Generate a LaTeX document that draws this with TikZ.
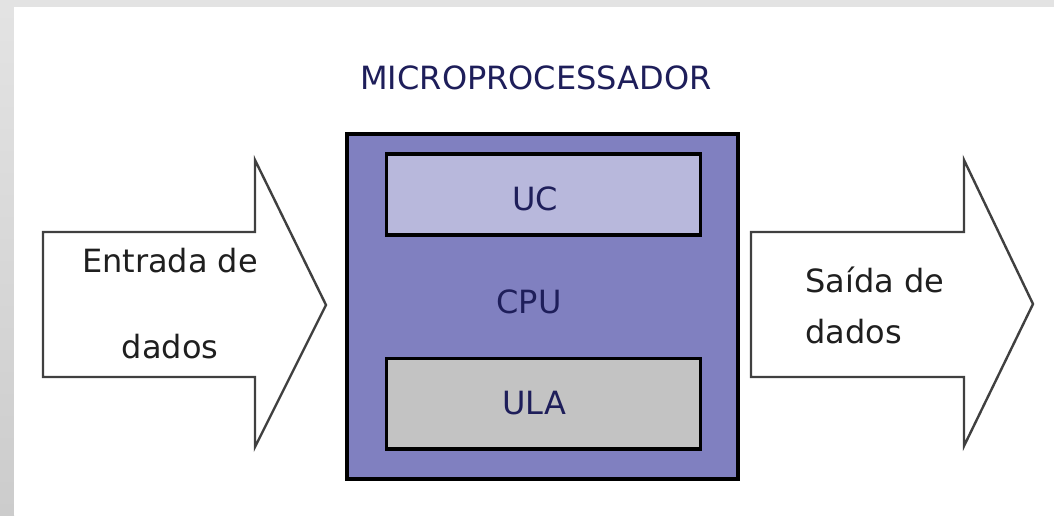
\documentclass[tikz,border=0pt]{standalone}
\usepackage{fontspec}
\setmainfont{DejaVu Sans}
\usepackage[svgnames]{xcolor}
\usepackage{tikz}
\definecolor{cpufill}{HTML}{8080C0}
\definecolor{ucfill}{HTML}{B8B8DC}
\definecolor{ulafill}{HTML}{C3C3C3}
\definecolor{navytext}{HTML}{1E1E5A}
\definecolor{arrowgray}{HTML}{404040}
\definecolor{framegray}{HTML}{E3E3E3}
\pgfdeclarelayer{edgelayer}
\pgfdeclarelayer{nodelayer}
\pgfsetlayers{edgelayer,nodelayer,main}
\tikzset{
	bigtext/.style={font=\fontsize{32}{38}\selectfont},
	boxlabel/.style={bigtext, text=navytext, anchor=base, inner sep=0pt},
	arrowlabel/.style={bigtext, text=black!88, inner sep=0pt},
	unitbox/.style={draw=black, line width=3.3pt, inner sep=0pt, minimum width=314pt},
	blockarrow/.style={draw=arrowgray, line width=2.4pt, fill=white, line join=miter},
}

\begin{document}
\begin{tikzpicture}[x=1pt, y=-1pt]
							\useasboundingbox (0,0) rectangle (1054,515);
							\begin{pgfonlayer}{edgelayer}
								\fill[framegray] (0,0) rectangle (1054,515);
								\shade[top color=framegray, bottom color=gray!40] (0,7) rectangle (14,515);
								\fill[white] (14,7) rectangle (1054,515);
								% entrada
								\draw[blockarrow] (43,232) -- (255,232) -- (255,160) -- (326,305)
									-- (255,447) -- (255,377) -- (43,377) -- cycle;
								% saida
								\draw[blockarrow] (751,232) -- (964,232) -- (964,160) -- (1033,304)
									-- (964,446) -- (964,377) -- (751,377) -- cycle;
							\end{pgfonlayer}
							\begin{pgfonlayer}{nodelayer}
								\node[draw=black, line width=3.6pt, fill=cpufill, minimum width=391pt, minimum height=345pt] (cpu) at (542.5,306.75) {};
								\node[unitbox, fill=ucfill, minimum height=81pt] (uc) at (543.8,194.5) {};
								\node[unitbox, fill=ulafill, minimum height=90.7pt] (ula) at (543.8,403.7) {};
							\end{pgfonlayer}
							\node[boxlabel] (micro) at (536,89) {MICROPROCESSADOR};
							\node[boxlabel] (uctext) at (535,210) {UC};
							\node[boxlabel] (cputext) at (529,313) {CPU};
							\node[boxlabel] (ulatext) at (534,414) {ULA};
							\node[arrowlabel, anchor=base] (entrada) at (170,272) {Entrada de};
							\node[arrowlabel, anchor=base] (dadosin) at (170,358) {dados};
							\node[arrowlabel, anchor=base west] (saida) at (805,292) {Saída de};
							\node[arrowlabel, anchor=base west] (dadosout) at (805,343) {dados};
						\end{tikzpicture}
\end{document}
